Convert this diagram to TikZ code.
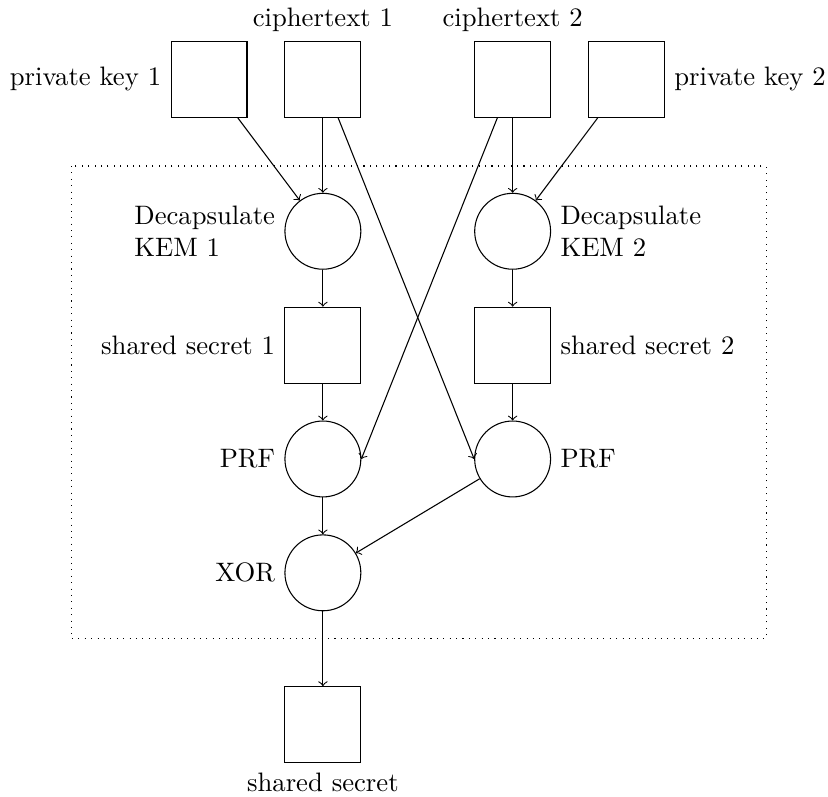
\documentclass[tikz,border=0pt]{standalone}
\begin{document}
\begin{tikzpicture}[
        box/.style={draw, rectangle, minimum size=1cm},
        op/.style={draw, circle, minimum size=1cm},
        forward/.style={->},
    ]
        \useasboundingbox (-2.754, 1.047) rectangle (8.155, -9.453);
        % inputs
        \node[box, label=left:private key 1] (pk1) at (0, 0) {};
        \node[box, label=above:ciphertext 1] (ct1) at (1.5, 0) {};
        \node[box, label=above:ciphertext 2] (ct2) at (4, 0) {};
        \node[box, label=right:private key 2] (pk2) at (5.5, 0) {};
        % combiner
        \node[op, label={[align=left]left:Decapsulate\\KEM 1}] (kem1) at (1.5, -2) {};
        \node[op, label={[align=left]right:Decapsulate\\KEM 2}] (kem2) at (4, -2) {};
        \node[box, label=left:shared secret 1] (ss1) at (1.5, -3.5) {};
        \node[box, label=right:shared secret 2] (ss2) at (4, -3.5) {};
        \node[op, label=left:PRF] (prf1) at (1.5, -5) {};
        \node[op, label=right:PRF] (prf2) at (4, -5) {};
        \node[op, label=left:XOR] (xor) at (1.5, -6.5) {};
        \node[box, label=below:shared secret] (ss) at (1.5, -8.5) {};
        \draw[dotted] (-1.818, -1.14) rectangle (7.339, -7.37);
        \draw[forward] (pk1) -- (kem1);
        \draw[forward] (ct1) -- (kem1);
        \draw[forward] (ct2) -- (kem2);
        \draw[forward] (pk2) -- (kem2);
        \draw[forward] (kem1) -- (ss1);
        \draw[forward] (kem2) -- (ss2);
        \draw[forward] (ss1) -- (prf1);
        \draw[forward] (ss2) -- (prf2);
        \draw[forward] (ct1) -- (prf2.west);
        \draw[forward] (ct2) -- (prf1.east);
        \draw[forward] (prf1) -- (xor);
        \draw[forward] (prf2) -- (xor);
        \draw[forward] (xor) -- (ss);
    \end{tikzpicture}
\end{document}
